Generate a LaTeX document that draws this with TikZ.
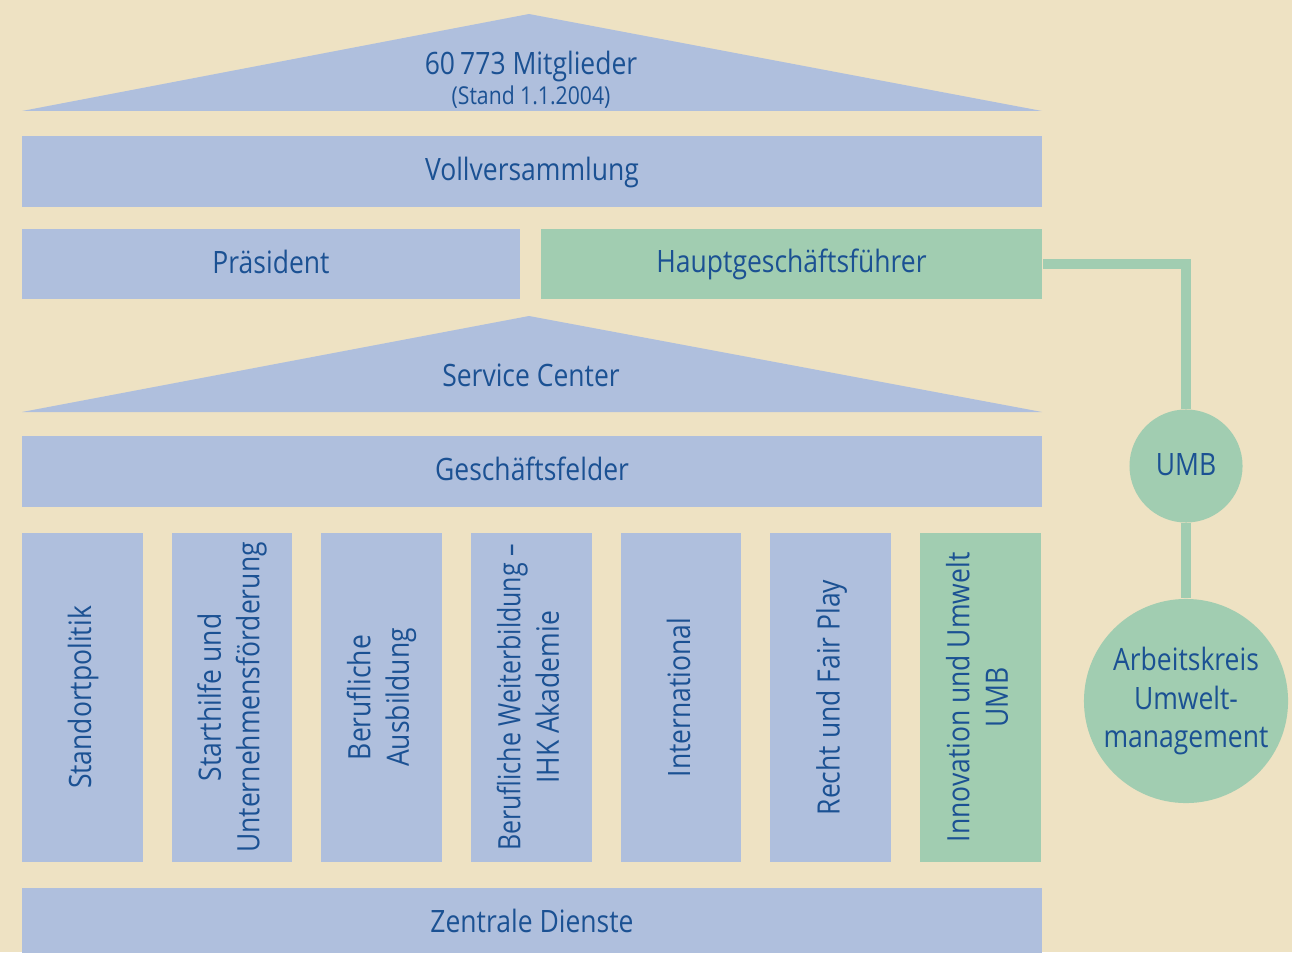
\documentclass[tikz,border=0pt]{standalone}
\usepackage{fontspec}
\setmainfont{Open Sans}[FakeStretch = 0.86]
\newfontfamily\narrowfont{Open Sans}[FakeStretch = 0.81, Ligatures = TeX]
\definecolor{sand}{HTML}{EEE2C3}
\definecolor{slate}{HTML}{AFBFDD}
\definecolor{sage}{HTML}{A1CDB1}
\definecolor{ink}{HTML}{1B5193}
\newcommand{\txtstrut}{\rule[-2pt]{0pt}{9.2pt}}

\begin{document}
\begin{tikzpicture}[x = 0.01cm, y = -0.01cm,
    every node/.style = {inner sep = 0pt, text = ink, align = center,
        font = \fontsize{8.76}{10.95}\selectfont,
        execute at begin node = \txtstrut, execute at end node = \txtstrut},
    bar/.style = {fill = slate, minimum height = 0.71cm},
    pillar/.style = {fill = slate, rotate = 90, minimum width = 3.29cm, minimum height = 1.205cm},
    circ/.style = {circle, fill = sage},
    link/.style = {draw = sage, line width = 3.1pt}]
    \fill[sand] (0,0) rectangle (1292,952);
    \useasboundingbox (0,0) rectangle (1292,952);
    % roofs
    \fill[slate] (22,111) -- (529,14) -- (1042,111) -- cycle;
    \fill[slate] (22,412) -- (529,316) -- (1042,412) -- cycle;
    \node (members) at (531,81.5) {60\,773 Mitglieder\\[-2.4pt]{\fontsize{7}{8.75}\selectfont (Stand 1.1.2004)}};
    \node (service) at (531,377) {Service Center};
    % bars
    \node[bar, minimum width = 10.2cm] (plenum) at (532,171.5) {Vollversammlung};
    \node[bar, minimum width = 4.98cm, minimum height = 0.7cm] (president) at (271,264) {Präsident};
    \node[bar, fill = sage, minimum width = 5.01cm, minimum height = 0.7cm] (hgf) at (791.5,264) {Hauptgeschäftsführer};
    \node[bar, minimum width = 10.2cm] (fields) at (532,471.5) {Geschäftsfelder};
    \node[bar, minimum width = 10.2cm] (central) at (532,923.5) {Zentrale Dienste};
    % pillars
    \foreach \i/\txt in {0/Standortpolitik, 1/{Starthilfe und\\Unternehmensförderung},
        2/{Berufliche\\Ausbildung}, 3/{\narrowfont Berufliche Weiterbildung --\\IHK Akademie},
        4/International, 5/Recht und Fair Play}
        \node[pillar] (field\i) at (82.25 + 149.7*\i, 697.5) {\txt};
    \node[pillar, fill = sage] (field6) at (980.45,697.5) {Innovation und Umwelt\\UMB};
    % environment circles
    \node[circ, minimum size = 1.13cm] (umb) at (1186,466) {UMB};
    \node[circ, minimum size = 2.04cm] (ak) at (1186,701) {Arbeitskreis\\Umwelt-\\management};
    \draw[link] (hgf) -| (umb);
    \draw[link] (umb) -- (ak);
\end{tikzpicture}
\end{document}
